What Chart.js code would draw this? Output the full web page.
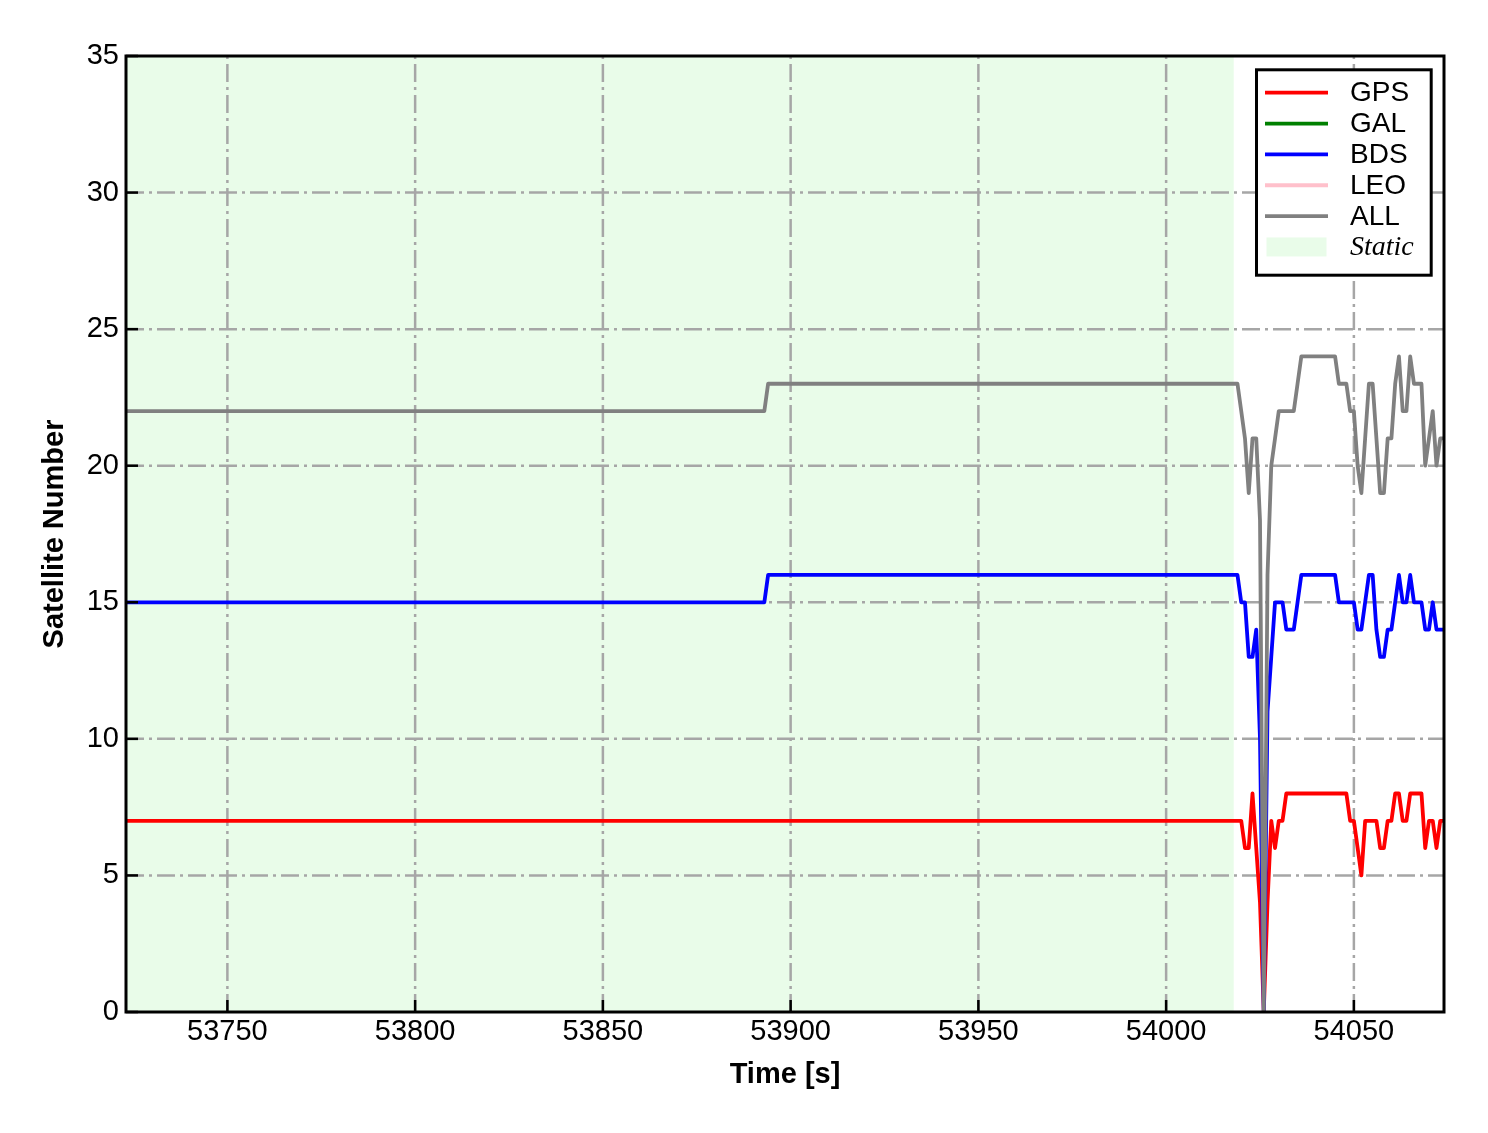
<!DOCTYPE html>
<html>
<head>
<meta charset="utf-8">
<script src="https://cdn.jsdelivr.net/npm/chart.js@4.4.0/dist/chart.umd.min.js"></script>
<style>
html,body{margin:0;padding:0;background:#fff;}
#wrap{width:1488px;height:1133px;position:relative;}
canvas{display:block;}
</style>
</head>
<body>
<div id="wrap"><canvas id="c" width="1488" height="1133"></canvas></div>
<script>
// ---- data ----
const times = [53723, 53893, 53894,
  54018, 54019, 54020, 54021, 54022, 54023, 54024, 54025, 54026, 54027,
  54028, 54029, 54030, 54031, 54032, 54033, 54034, 54035, 54036, 54037,
  54038, 54039, 54040, 54041, 54042, 54043, 54044, 54045, 54046, 54047,
  54048, 54049, 54050, 54051, 54052, 54053, 54054, 54055, 54056, 54057,
  54058, 54059, 54060, 54061, 54062, 54063, 54064, 54065, 54066, 54067,
  54068, 54069, 54070, 54071, 54072, 54073, 54074];

const gpsValues = [7, 7, 7,
  7, 7, 7, 6, 6, 8, 6, 4, 0, 4,
  7, 6, 7, 7, 8, 8, 8, 8, 8, 8,
  8, 8, 8, 8, 8, 8, 8, 8, 8, 8,
  8, 7, 7, 6, 5, 7, 7, 7, 7, 6,
  6, 7, 7, 8, 8, 7, 7, 8, 8, 8,
  8, 6, 7, 7, 6, 7, 7];

const galValues = [];

const bdsValues = [15, 15, 16,
  16, 16, 15, 15, 13, 13, 14, 10, 0, 11,
  13, 15, 15, 15, 14, 14, 14, 15, 16, 16,
  16, 16, 16, 16, 16, 16, 16, 16, 15, 15,
  15, 15, 15, 14, 14, 15, 16, 16, 14, 13,
  13, 14, 14, 15, 16, 15, 15, 16, 15, 15,
  15, 14, 14, 15, 14, 14, 14];

const leoValues = [];

const allValues = [22, 22, 23,
  23, 23, 22, 21, 19, 21, 21, 18, 0, 16,
  20, 21, 22, 22, 22, 22, 22, 23, 24, 24,
  24, 24, 24, 24, 24, 24, 24, 24, 23, 23,
  23, 22, 22, 20, 19, 21, 23, 23, 21, 19,
  19, 21, 21, 23, 24, 22, 22, 24, 23, 23,
  23, 20, 21, 22, 20, 21, 21];

const xTicks = [53750, 53800, 53850, 53900, 53950, 54000, 54050];
const yTicks = [0, 5, 10, 15, 20, 25, 30, 35];
const xRange = [53723, 54074];
const yRange = [0, 35];
const staticPeriod = [53723, 54018];

// ---- style ----
const FONT = "'Liberation Sans', Arial, Helvetica, sans-serif";
const SERIF = "'Liberation Serif', 'Times New Roman', serif";
const staticColor = 'rgb(233,252,233)';

function pts(vals) { return vals.map((v, i) => ({ x: times[i], y: v })); }

const series = [
  { label: 'GPS', color: '#ff0000', values: gpsValues, order: 5 },
  { label: 'GAL', color: '#008000', values: galValues, order: 4 },
  { label: 'BDS', color: '#0000ff', values: bdsValues, order: 3 },
  { label: 'LEO', color: '#ffc0cb', values: leoValues, order: 2 },
  { label: 'ALL', color: '#808080', values: allValues, order: 1 }
];

const decor = {
  id: 'decor',
  beforeDatasetsDraw(chart) {
    const { ctx, chartArea: a, scales: { x, y } } = chart;
    ctx.save();
    const x0 = x.getPixelForValue(staticPeriod[0]);
    const x1 = x.getPixelForValue(staticPeriod[1]);
    ctx.fillStyle = staticColor;
    ctx.fillRect(x0, a.top, x1 - x0, a.bottom - a.top);
    ctx.strokeStyle = '#a6a6a6';
    ctx.lineWidth = 2.5;
    ctx.setLineDash([18, 5, 3, 5]);
    xTicks.forEach(v => {
      const px = x.getPixelForValue(v);
      ctx.beginPath(); ctx.moveTo(px, a.bottom); ctx.lineTo(px, a.top); ctx.stroke();
    });
    yTicks.forEach(v => {
      if (v === yRange[0] || v === yRange[1]) return;
      const py = y.getPixelForValue(v);
      ctx.beginPath(); ctx.moveTo(a.left, py); ctx.lineTo(a.right, py); ctx.stroke();
    });
    ctx.restore();
  },
  afterDraw(chart) {
    const { ctx, chartArea: a, scales: { x, y } } = chart;
    ctx.save();
    // inward ticks
    ctx.strokeStyle = '#000';
    ctx.lineWidth = 2.5;
    xTicks.forEach(v => {
      const px = x.getPixelForValue(v);
      ctx.beginPath(); ctx.moveTo(px, a.bottom); ctx.lineTo(px, a.bottom - 12); ctx.stroke();
    });
    yTicks.forEach(v => {
      const py = y.getPixelForValue(v);
      ctx.beginPath(); ctx.moveTo(a.left, py); ctx.lineTo(a.left + 12, py); ctx.stroke();
    });
    // frame
    ctx.lineWidth = 3;
    ctx.strokeRect(a.left, a.top, a.right - a.left, a.bottom - a.top);
    // legend
    const bx = 1256.5, by = 69.8, bw = 174.7, bh = 205.4;
    ctx.fillStyle = '#fff';
    ctx.fillRect(bx, by, bw, bh);
    ctx.lineWidth = 3;
    ctx.strokeStyle = '#000';
    ctx.strokeRect(bx, by, bw, bh);
    const rowY0 = 92.7, dy = 30.85;
    ctx.textBaseline = 'middle';
    ctx.textAlign = 'left';
    chart.data.datasets.forEach((ds, i) => {
      const ry = rowY0 + i * dy;
      ctx.strokeStyle = ds.borderColor;
      ctx.lineWidth = 3.8;
      ctx.beginPath(); ctx.moveTo(1265, ry); ctx.lineTo(1328, ry); ctx.stroke();
      ctx.fillStyle = '#000';
      ctx.font = '28px ' + FONT;
      ctx.fillText(ds.label, 1350, ry + 1);
    });
    const sy = rowY0 + 5 * dy;
    ctx.fillStyle = staticColor;
    ctx.fillRect(1266.5, sy - 9.5, 60, 19);
    ctx.fillStyle = '#000';
    ctx.font = 'italic 28px ' + SERIF;
    ctx.fillText('Static', 1350, sy + 1);
    ctx.restore();
  }
};

new Chart(document.getElementById('c'), {
  type: 'line',
  data: {
    datasets: series.map(s => ({
      label: s.label,
      data: pts(s.values),
      borderColor: s.color,
      backgroundColor: s.color,
      borderWidth: 3.8,
      pointRadius: 0,
      tension: 0,
      fill: false,
      borderJoinStyle: 'round',
      order: s.order
    }))
  },
  options: {
    responsive: false,
    animation: false,
    devicePixelRatio: 1,
    layout: { padding: { left: 0, right: 44, top: 56, bottom: 0 } },
    plugins: { legend: { display: false }, tooltip: { enabled: false } },
    scales: {
      x: {
        type: 'linear',
        min: xRange[0], max: xRange[1],
        afterBuildTicks(s) { s.ticks = xTicks.map(v => ({ value: v })); },
        afterFit(s) { s.height = 121; },
        grid: { display: false, drawTicks: false },
        border: { display: false },
        ticks: {
          autoSkip: false, maxRotation: 0, padding: 3,
          color: '#000', font: { family: FONT, size: 29 },
          callback: v => String(v)
        },
        title: {
          display: true, text: 'Time [s]', color: '#000',
          font: { family: FONT, size: 29, weight: 'bold' },
          padding: { top: 0, bottom: 41 }
        }
      },
      y: {
        type: 'linear',
        min: yRange[0], max: yRange[1],
        afterBuildTicks(s) { s.ticks = yTicks.map(v => ({ value: v })); },
        afterFit(s) { s.width = 126; },
        grid: { display: false, drawTicks: false },
        border: { display: false },
        ticks: {
          padding: 7, color: '#000', font: { family: FONT, size: 29 },
          callback: v => String(v)
        },
        title: {
          display: true, text: 'Satellite Number', color: '#000',
          font: { family: FONT, size: 29, weight: 'bold' },
          padding: { top: 38, bottom: 0 }
        }
      }
    }
  },
  plugins: [decor]
});
</script>
</body>
</html>
